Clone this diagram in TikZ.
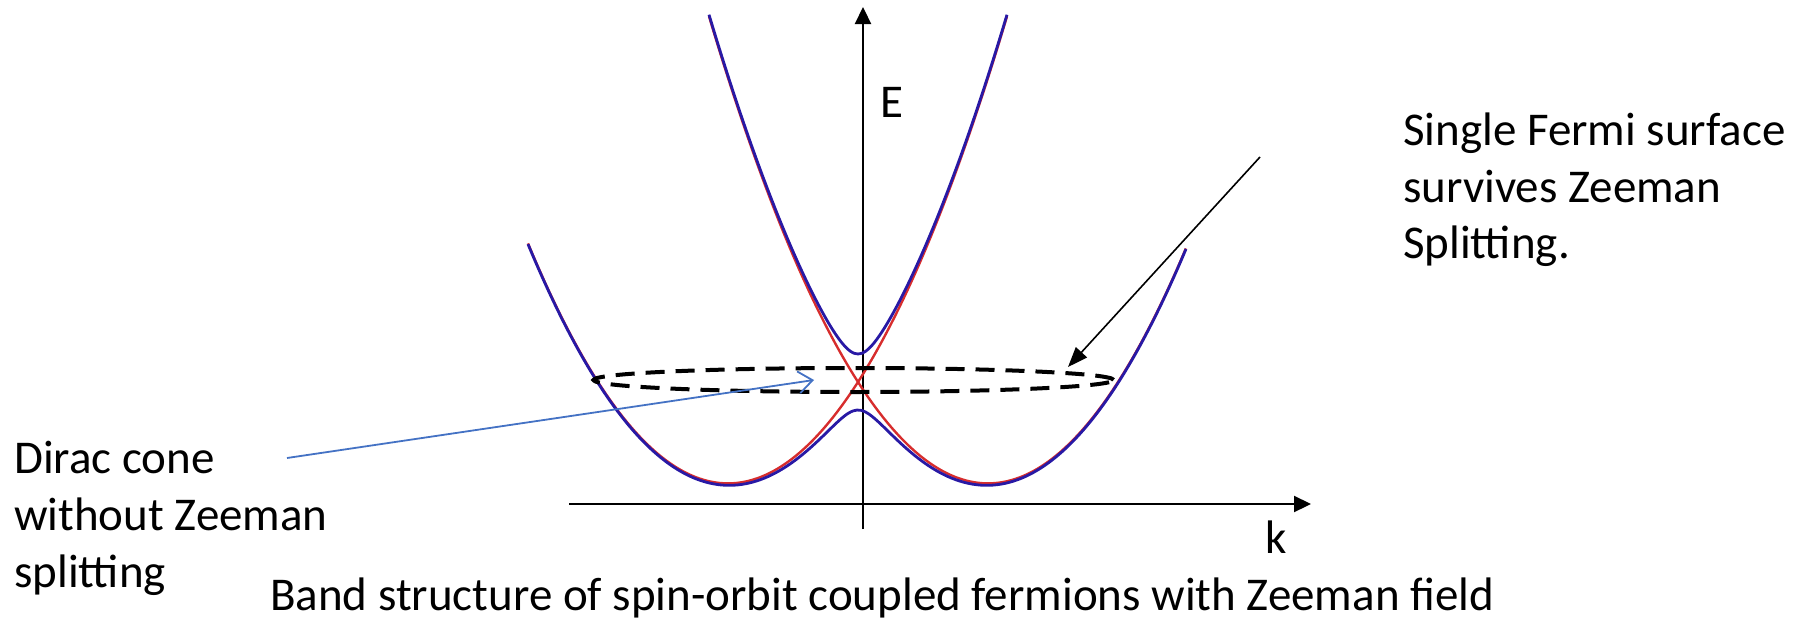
\documentclass[tikz,border=0pt]{standalone}
\usepackage{fontspec}
\setmainfont{Carlito}
\usetikzlibrary{arrows.meta,shapes.geometric}
\definecolor{bandblue}{RGB}{40,25,165}
\definecolor{bandred}{RGB}{215,45,45}
\definecolor{ptrblue}{RGB}{68,114,196}
\begin{document}
\begin{tikzpicture}[x=1pt,y=-1pt,
  axis/.style={line width=2.2pt, -{Triangle[length=17pt,width=16pt]}},
  lbl/.style={inner sep=0pt, anchor=base west, font=\fontsize{47}{57}\selectfont},
  captxt/.style={inner sep=0pt, anchor=base west, font=\fontsize{47}{57}\selectfont},
  redband/.style={draw=bandred, line width=2.4pt},
  blueband/.style={draw=bandblue, line width=2.8pt},
  fermi/.style={draw=black, line width=4pt, dash pattern=on 19pt off 11pt},
  ]
\useasboundingbox (0,0) rectangle (1804,621);
% axes
\coordinate (ytop) at (863,7);
\coordinate (ybot) at (863,529);
\coordinate (xleft) at (569,504);
\coordinate (xright) at (1311,504);
\draw[axis] (ybot) -- (ytop);
\draw[axis] (xleft) -- (xright);
\node[lbl, anchor=base] (E) at (892,117) {E};
\node[lbl, anchor=base] (k) at (1276,553) {k};
% red bands (no Zeeman field)
\draw[redband] plot[domain=-3.3:0, samples=80, smooth] ({858+100*(\x)},{382-(60*(\x)*(\x)+156*(\x))});
\draw[redband] plot[domain=0:3.28, samples=80, smooth] ({858+100*(\x)},{382-(60*(\x)*(\x)-156*(\x))});
\draw[redband] plot[domain=-1.49:0, samples=40, smooth] ({858+100*(\x)},{382-(60*(\x)*(\x)-156*(\x))});
\draw[redband] plot[domain=0:1.49, samples=40, smooth] ({858+100*(\x)},{382-(60*(\x)*(\x)+156*(\x))});
% blue bands (with Zeeman field)
\draw[blueband] plot[domain=-3.3:3.28, samples=161, smooth] ({858+100*(\x)},{382-(60*(\x)*(\x)-100*sqrt(2.4336*(\x)*(\x)+0.0784))});
\draw[blueband] plot[domain=-1.49:1.49, samples=81, smooth] ({858+100*(\x)},{382-(60*(\x)*(\x)+100*sqrt(2.4336*(\x)*(\x)+0.0784))});
% Fermi surface
\node[fermi, ellipse, minimum width=520pt, minimum height=24pt, inner sep=0pt] (fs) at (853.5,380) {};
% labels
\node[lbl] (sf1) at (1403,145) {Single Fermi surface};
\node[lbl] (sf2) at (1403,202) {survives Zeeman};
\node[lbl] (sf3) at (1403,258) {Splitting.};
\node[lbl] (dc1) at (14,473) {Dirac cone};
\node[lbl] (dc2) at (14,530) {without Zeeman};
\node[lbl] (dc3) at (14,587) {splitting};
\node[captxt] (caption) at (270,610) {Band structure of spin-orbit coupled fermions with Zeeman field};
% pointers
\coordinate (dcTail) at (287,458);
\coordinate (dcTip) at (814,380);
\draw[line width=1.8pt, draw=ptrblue, -{Straight Barb[length=14pt,width=22pt]}] (dcTail) -- (dcTip);
\coordinate (sfTail) at (1260,157);
\coordinate (sfTip) at (1068,367);
\draw[line width=1.6pt, -{Triangle[length=20pt,width=15pt]}] (sfTail) -- (sfTip);
\end{tikzpicture}
\end{document}
